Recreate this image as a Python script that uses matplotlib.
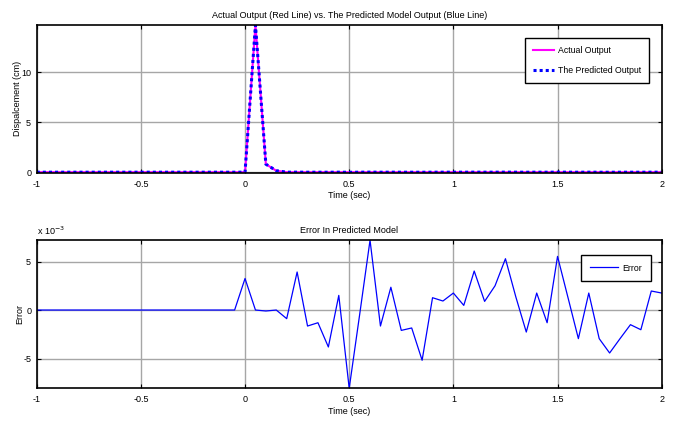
import numpy as np
import matplotlib
matplotlib.use("Agg")
import matplotlib.pyplot as plt
from matplotlib import font_manager

# ---- data ----
time = np.round(np.arange(-1.0, 2.0001, 0.05), 2)  # 61 samples

actual_output = [0.0, 0.0, 0.0, 0.0, 0.0, 0.0, 0.0, 0.0, 0.0, 0.0,
                 0.0, 0.0, 0.0, 0.0, 0.0, 0.0, 0.0, 0.0, 0.0, 0.0,
                 0.0, 14.7, 0.8, 0.15, 0.0, 0.0, 0.0, 0.0, 0.0, 0.0,
                 0.0, 0.0, 0.0, 0.0, 0.0, 0.0, 0.0, 0.0, 0.0, 0.0,
                 0.0, 0.0, 0.0, 0.0, 0.0, 0.0, 0.0, 0.0, 0.0, 0.0,
                 0.0, 0.0, 0.0, 0.0, 0.0, 0.0, 0.0, 0.0, 0.0, 0.0,
                 0.0]
predicted_output = [0.0, 0.0, 0.0, 0.0, 0.0, 0.0, 0.0, 0.0, 0.0, 0.0,
                    0.0, 0.0, 0.0, 0.0, 0.0, 0.0, 0.0, 0.0, 0.0, 0.0,
                    0.0033, 14.7, 0.8, 0.15, -0.0009, 0.0039, -0.0017, -0.0013, -0.0038, 0.0015,
                    -0.0081, -0.0005, 0.0072, -0.0017, 0.0024, -0.0021, -0.0019, -0.0052, 0.0013, 0.0009,
                    0.0018, 0.0005, 0.0040, 0.0009, 0.0025, 0.0053, 0.0013, -0.0023, 0.0018, -0.0013,
                    0.0055, 0.0013, -0.0030, 0.0018, -0.0030, -0.0044, -0.0030, -0.0015, -0.0020, 0.0020,
                    0.0018]

# prediction error, in units of 1e-3
error_e3 = [0.0, 0.0, 0.0, 0.0, 0.0, 0.0, 0.0, 0.0, 0.0, 0.0,
            0.0, 0.0, 0.0, 0.0, 0.0, 0.0, 0.0, 0.0, 0.0, 0.0,
            3.25, 0.0, -0.1, 0.0, -0.89, 3.92, -1.65, -1.31, -3.81, 1.51,
            -8.07, -0.5, 7.2, -1.65, 2.35, -2.1, -1.85, -5.18, 1.27, 0.93,
            1.75, 0.48, 4.02, 0.89, 2.5, 5.29, 1.34, -2.27, 1.75, -1.31,
            5.53, 1.3, -2.95, 1.75, -2.95, -4.43, -2.95, -1.51, -2.03, 1.96,
            1.75]

x_ticks = [-1, -0.5, 0, 0.5, 1, 1.5, 2]
x_tick_labels = ["-1", "-0.5", "0", "0.5", "1", "1.5", "2"]
top_y_ticks = [0, 5, 10]
bottom_y_ticks = [-5, 0, 5]
bottom_y_tick_labels = ["-5", "0", "5"]

# ---- fonts ----
names = {f.name for f in font_manager.fontManager.ttflist}
fam = ["Liberation Sans Narrow", "Liberation Sans", "DejaVu Sans"]
fam = [f for f in fam if f in names] or ["DejaVu Sans"]
plt.rcParams["font.family"] = fam
plt.rcParams["font.size"] = 6.5
plt.rcParams["axes.unicode_minus"] = False

W, H = 675, 423
fig = plt.figure(figsize=(W / 100, H / 100), dpi=100)

def px_axes(left, top, right, bottom):
    return fig.add_axes([left / W, 1 - bottom / H, (right - left) / W, (bottom - top) / H])

ax1 = px_axes(36.7, 25, 661.7, 172.7)
ax2 = px_axes(36.7, 240, 661.7, 388.3)

grid_kw = dict(color="#a6a6a6", linewidth=1.0, linestyle="-")

for ax in (ax1, ax2):
    ax.set_xlim(-1, 2)
    ax.set_xticks(x_ticks)
    ax.set_xticklabels(x_tick_labels)
    ax.grid(True, **grid_kw)
    ax.set_axisbelow(True)
    ax.tick_params(direction="in", length=3, width=0.8, top=True, right=True,
                   labelsize=6.5, pad=5, colors="black")
    ax.tick_params(axis="y", pad=4)
    for s in ax.spines.values():
        s.set_linewidth(1.2)
    ax.set_xlabel("Time (sec)", fontsize=6.5, labelpad=2)

# top plot
ax1.plot(time, actual_output, color="#ff00ff", linewidth=1.5, label="Actual Output")
ax1.plot(time, predicted_output, color="#0000ff", linewidth=2.2, linestyle=(0, (1, 1)),
         label="The Predicted Output")
ax1.set_ylim(-0.05, 14.7)
ax1.set_yticks(top_y_ticks)
ax1.set_ylabel("Dispalcement (cm)", fontsize=6.5)
ax1.yaxis.set_label_coords(-0.024, 0.5)
ax1.set_title("Actual Output (Red Line) vs. The Predicted Model Output (Blue Line)",
              fontsize=6.5, pad=5)
leg1 = ax1.legend(loc="upper right", bbox_to_anchor=(0.987, 0.94), fontsize=6.3,
                  frameon=True, fancybox=False, edgecolor="black", framealpha=1,
                  handlelength=2.4, borderpad=0.9, labelspacing=1.3, handletextpad=0.5)
leg1.get_frame().set_linewidth(1.0)

# bottom plot
ax2.plot(time, error_e3, color="#0000ff", linewidth=0.9, label="Error")
ax2.set_ylim(-8.07, 7.22)
ax2.set_yticks(bottom_y_ticks)
ax2.set_yticklabels(bottom_y_tick_labels)
ax2.set_ylabel("Error", fontsize=6.5)
ax2.yaxis.set_label_coords(-0.02, 0.5)
ax2.set_title("Error In Predicted Model", fontsize=6.5, pad=5)
ax2.text(0.0, 1.02, r"x 10$^{-3}$", transform=ax2.transAxes, fontsize=6.5,
         ha="left", va="bottom")
leg2 = ax2.legend(loc="upper right", bbox_to_anchor=(0.99, 0.93), fontsize=6.3,
                  frameon=True, fancybox=False, edgecolor="black", framealpha=1,
                  handlelength=3.2, borderpad=1.0, handletextpad=0.5)
leg2.get_frame().set_linewidth(1.0)

fig.savefig("out.png", dpi=100, facecolor="white")
